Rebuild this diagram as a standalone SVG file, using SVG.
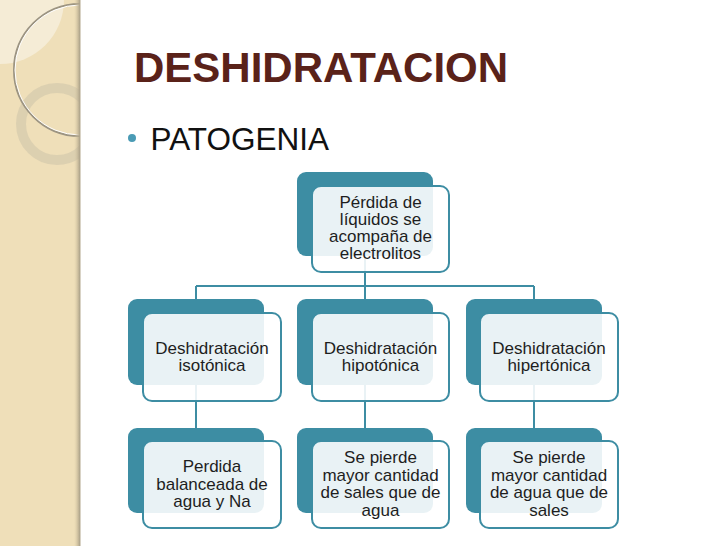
<svg xmlns="http://www.w3.org/2000/svg" width="728" height="546" viewBox="0 0 728 546">
<defs>
<style>
.back{fill:#3d8da3;}
.front{fill:#ffffff;fill-opacity:0.89;stroke:#3d8da3;stroke-width:2;}
.lbl{font-family:"Liberation Sans",Arial,sans-serif;font-size:17px;fill:#1e1e1e;text-anchor:middle;}
.conn{fill:none;stroke:#3d8da3;stroke-width:2;}
</style>
<linearGradient id="edge" x1="0" y1="0" x2="1" y2="0">
<stop offset="0" stop-color="#d8c9a4" stop-opacity="0"/>
<stop offset="1" stop-color="#a99e86"/>
</linearGradient>
<clipPath id="side"><rect x="0" y="0" width="80" height="546"/></clipPath>
</defs>
<rect x="0" y="0" width="728" height="546" fill="#ffffff"/>
<g id="sidebar">
<rect x="0" y="0" width="80" height="546" fill="#efdfb9"/>
<g clip-path="url(#side)">
<circle cx="0" cy="0" r="64" fill="#f5ecd6"/>
<circle cx="57" cy="124" r="36" fill="none" stroke="#d6cbae" stroke-width="10" stroke-opacity="0.75"/>
<circle cx="80" cy="70" r="66" fill="none" stroke="#9c9482" stroke-width="2"/>
<circle cx="80" cy="70" r="65" fill="none" stroke="#ffffff" stroke-width="1"/>
</g>
<rect x="74" y="0" width="6" height="546" fill="url(#edge)"/>
<line x1="80" y1="0" x2="80" y2="546" stroke="#b3a88e" stroke-width="1"/>
</g>
<g id="title">
<text x="134" y="82" font-family="&quot;Liberation Sans&quot;,Arial,sans-serif" font-size="42" font-weight="bold" fill="#5a2219">DESHIDRATACION</text>
</g>
<g id="bullet">
<circle cx="132" cy="138" r="4" fill="#4a9bb5"/>
<text x="150.5" y="150" font-family="&quot;Liberation Sans&quot;,Arial,sans-serif" font-size="31.5" fill="#111111">PATOGENIA</text>
</g>
<g id="connectors">
<path class="conn" d="M365,255 V286"/>
<path class="conn" d="M196,286 H534"/>
<path class="conn" d="M196,286 V299 M365,286 V299 M534,286 V299"/>
<path class="conn" d="M196,385 V428 M365,385 V428 M534,385 V428"/>
</g>
<g id="root">
<rect class="back" x="297" y="172" width="136" height="84" rx="9"/>
<rect class="front" x="312" y="186" width="137" height="86" rx="9"/>
<text class="lbl" x="380.5" y="208">Pérdida de</text>
<text class="lbl" x="380.5" y="225">líquidos se</text>
<text class="lbl" x="380.5" y="242">acompaña de</text>
<text class="lbl" x="380.5" y="259">electrolitos</text>
</g>
<g id="iso">
<rect class="back" x="128" y="299" width="136" height="86" rx="9"/>
<rect class="front" x="143" y="313" width="138" height="88" rx="9"/>
<text class="lbl" x="212" y="354">Deshidratación</text>
<text class="lbl" x="212" y="371">isotónica</text>
</g>
<g id="hipo">
<rect class="back" x="297" y="299" width="136" height="86" rx="9"/>
<rect class="front" x="312" y="313" width="137" height="88" rx="9"/>
<text class="lbl" x="380.5" y="354">Deshidratación</text>
<text class="lbl" x="380.5" y="371">hipotónica</text>
</g>
<g id="hiper">
<rect class="back" x="466" y="299" width="136" height="86" rx="9"/>
<rect class="front" x="480" y="313" width="138" height="88" rx="9"/>
<text class="lbl" x="549" y="354">Deshidratación</text>
<text class="lbl" x="549" y="371">hipertónica</text>
</g>
<g id="iso-detail">
<rect class="back" x="128" y="428" width="136" height="85" rx="9"/>
<rect class="front" x="143" y="441" width="138" height="87" rx="9"/>
<text class="lbl" x="212" y="472">Perdida</text>
<text class="lbl" x="212" y="489.5">balanceada de</text>
<text class="lbl" x="212" y="507">agua y Na</text>
</g>
<g id="hipo-detail">
<rect class="back" x="297" y="428" width="136" height="85" rx="9"/>
<rect class="front" x="312" y="441" width="137" height="87" rx="9"/>
<text class="lbl" x="380.5" y="463">Se pierde</text>
<text class="lbl" x="380.5" y="481">mayor cantidad</text>
<text class="lbl" x="380.5" y="498">de sales que de</text>
<text class="lbl" x="380.5" y="516">agua</text>
</g>
<g id="hiper-detail">
<rect class="back" x="466" y="428" width="136" height="85" rx="9"/>
<rect class="front" x="480" y="441" width="138" height="87" rx="9"/>
<text class="lbl" x="549" y="463">Se pierde</text>
<text class="lbl" x="549" y="481">mayor cantidad</text>
<text class="lbl" x="549" y="498">de agua que de</text>
<text class="lbl" x="549" y="516">sales</text>
</g>
</svg>
